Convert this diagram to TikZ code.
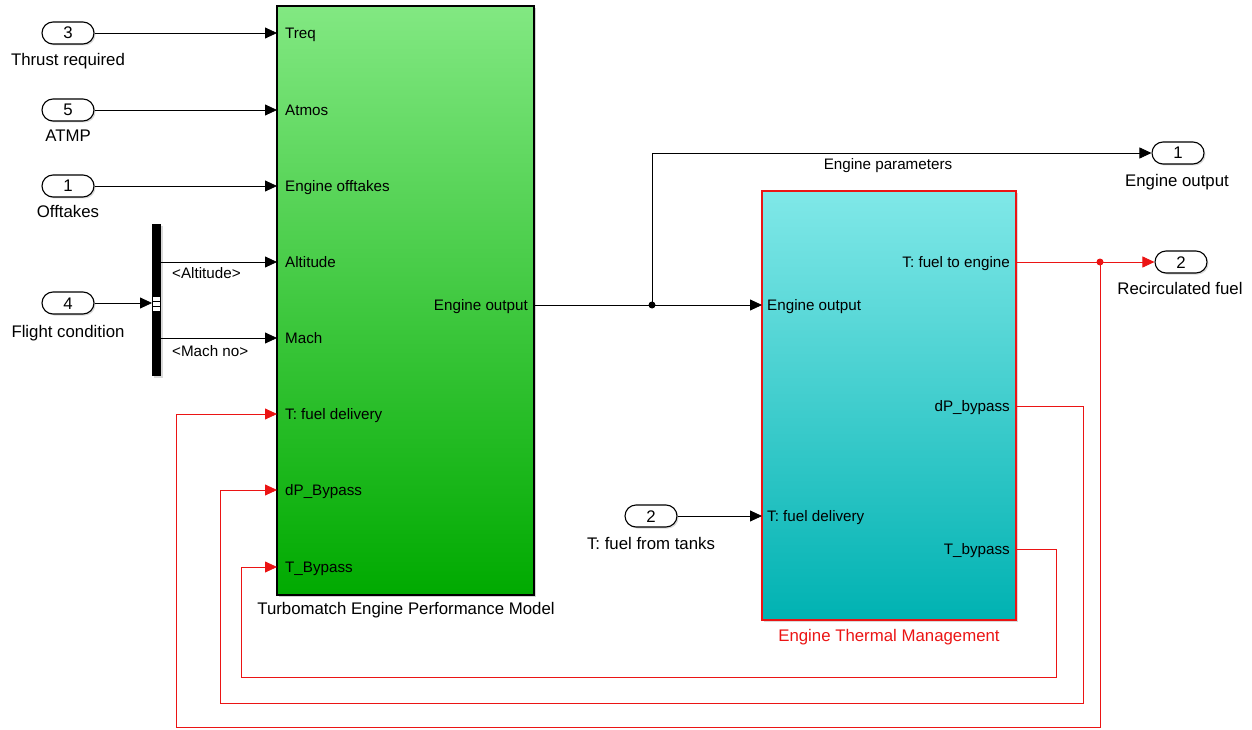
\documentclass[tikz,border=0pt]{standalone}
\usepackage{fontspec}
\setmainfont{Liberation Sans}
\usetikzlibrary{arrows.meta,shadows}
\definecolor{gtop}{RGB}{130,232,130}
\definecolor{gbot}{RGB}{0,170,0}
\definecolor{ctop}{RGB}{128,232,232}
\definecolor{cbot}{RGB}{0,178,178}
\definecolor{sred}{RGB}{235,20,20}
\begin{document}
\begin{tikzpicture}[x=1pt,y=-1pt,
  font=\fontsize{16.8}{20}\selectfont,
  txt/.style={inner sep=1pt, text height=12pt, text depth=0pt},
  plab/.style={inner sep=1pt, font=\fontsize{15.2}{18}\selectfont, text height=10.9pt, text depth=0pt},
  sig/.style={draw=black, line width=0.8pt, -{Triangle[length=12pt,width=11pt]}},
  rsig/.style={draw=sred, line width=0.8pt, -{Triangle[length=12pt,width=11pt]}},
  port/.style={draw=black, line width=1.1pt, rounded corners=11pt, minimum width=52pt, minimum height=22pt, fill=white, inner sep=0pt, text height=12pt, text depth=0pt,
    drop shadow={shadow xshift=1.5pt, shadow yshift=-1.5pt, opacity=0.3}},
  dot/.style={circle, fill, inner sep=0pt, minimum size=7pt}]
\useasboundingbox (0,0) rectangle (1252,730);

% ---------- blocks ----------
\node[draw=black, line width=2pt, top color=gtop, bottom color=gbot, minimum width=257pt, minimum height=589pt, inner sep=0pt,
  drop shadow={shadow xshift=2pt, shadow yshift=-2pt, opacity=0.35}] (G) at (405.5,300.5) {};
\node[draw=sred, line width=1.2pt, top color=ctop, bottom color=cbot, minimum width=254pt, minimum height=429pt, inner sep=0pt,
  drop shadow={shadow xshift=2pt, shadow yshift=-2pt, opacity=0.3}] (C) at (889,405.5) {};
\node[txt] (Glab) at (406,608) {Turbomatch Engine Performance Model};
\node[txt, text=sred] (Clab) at (889,635) {Engine Thermal Management};

% green block port coordinates and labels
\coordinate (gTreq) at (277,33);
\coordinate (gAtmos) at (277,110);
\coordinate (gOff) at (277,186);
\coordinate (gAlt) at (277,262);
\coordinate (gMach) at (277,338);
\coordinate (gTfd) at (277,414);
\coordinate (gdP) at (277,490);
\coordinate (gTB) at (277,567);
\coordinate (gOut) at (534,305);
\node[plab, anchor=west] (lTreq) at (284,33) {Treq};
\node[plab, anchor=west] (lAtmos) at (284,110) {Atmos};
\node[plab, anchor=west] (lOff) at (284,186) {Engine offtakes};
\node[plab, anchor=west] (lAlt) at (284,262) {Altitude};
\node[plab, anchor=west] (lMach) at (284,338) {Mach};
\node[plab, anchor=west] (lTfd) at (284,414) {T: fuel delivery};
\node[plab, anchor=west] (ldP) at (284,490) {dP\_Bypass};
\node[plab, anchor=west] (lTB) at (284,567) {T\_Bypass};
\node[plab, anchor=east] (lOut) at (529,305) {Engine output};

% cyan block ports and labels
\coordinate (cIn) at (762,305);
\coordinate (cTfd) at (762,516);
\coordinate (cTfe) at (1016,262);
\coordinate (cdP) at (1016,406);
\coordinate (cTB) at (1016,549);
\node[plab, anchor=west] (lcIn) at (766,305) {Engine output};
\node[plab, anchor=west] (lcTfd) at (766,516) {T: fuel delivery};
\node[plab, anchor=east] (lcTfe) at (1011,262) {T: fuel to engine};
\node[plab, anchor=east] (lcdP) at (1011,406) {dP\_bypass};
\node[plab, anchor=east] (lcTB) at (1011,549) {T\_bypass};

% ---------- inports ----------
\node[port] (in3) at (68,33) {3};
\node[txt] (in3l) at (68,60) {Thrust required};
\node[port] (in5) at (68,110) {5};
\node[txt] (in5l) at (68,136) {ATMP};
\node[port] (in1) at (68,186) {1};
\node[txt] (in1l) at (68,212) {Offtakes};
\node[port] (in4) at (68,303) {4};
\node[txt] (in4l) at (68,331) {Flight condition};
\node[port] (in2) at (651,516) {2};
\node[txt] (in2l) at (651,543) {T: fuel from tanks};

% ---------- outports ----------
\node[port] (out1) at (1178,153) {1};
\node[txt] (out1l) at (1177,180) {Engine output};
\node[port] (out2) at (1181,262) {2};
\node[txt] (out2l) at (1180,288) {Recirculated fuel};

% ---------- bus selector ----------
\node[fill=black, minimum width=9pt, minimum height=152pt, inner sep=0pt,
  drop shadow={shadow xshift=1.5pt, shadow yshift=-1.5pt, opacity=0.3}] (bus) at (156.5,300) {};
\fill[white] (153,297) rectangle (160,311);
\draw[black, line width=0.6pt] (153,301.7) -- (160,301.7) (153,306.3) -- (160,306.3);
\coordinate (busIn) at (152,303);
\coordinate (busA) at (161,262);
\coordinate (busM) at (161,338);
\node[plab, anchor=west] (lbA) at (171,273) {<Altitude>};
\node[plab, anchor=west] (lbM) at (171,351) {<Mach no>};

% ---------- black signals ----------
\draw[sig] (in3.east) -- (gTreq);
\draw[sig] (in5.east) -- (gAtmos);
\draw[sig] (in1.east) -- (gOff);
\draw[sig] (in4.east) -- (busIn);
\draw[sig] (busA) -- (gAlt);
\draw[sig] (busM) -- (gMach);
\draw[sig] (gOut) -- (cIn);
\node[dot] (br1) at (652,305) {};
\draw[sig] (br1.center) -- (652,153) -- (out1.west);
\node[plab] (lEP) at (888,164) {Engine parameters};
\draw[sig] (in2.east) -- (cTfd);

% ---------- red signals ----------
\draw[rsig] (cTfe) -- (out2.west);
\node[dot, fill=sred] (br2) at (1100,262) {};
\draw[rsig] (br2.center) -- (1100,727) -- (176,727) -- (176,414) -- (gTfd);
\draw[rsig] (cdP) -- (1083,406) -- (1083,703) -- (220,703) -- (220,490) -- (gdP);
\draw[rsig] (cTB) -- (1056,549) -- (1056,677) -- (241,677) -- (241,567) -- (gTB);
\end{tikzpicture}
\end{document}
